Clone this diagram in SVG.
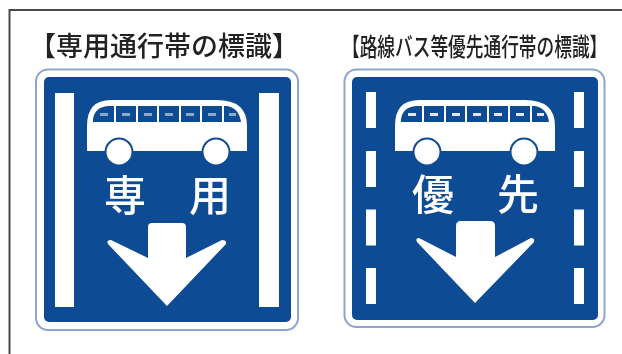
<svg xmlns="http://www.w3.org/2000/svg" width="622" height="354" viewBox="0 0 622 354">
<style>
.outer{fill:#fff;stroke:#8fa5cb;stroke-width:2}
.inner{fill:#0f4c94}
.w{fill:#fff}
.ws{fill:#fff;stroke:#0f4c94;stroke-width:2}
.win{fill:#0f4c94}
.t{font-family:"Noto Sans CJK JP","Liberation Sans",sans-serif;fill:#222;font-weight:500}
.s{font-family:"Noto Sans CJK JP","Liberation Sans",sans-serif;font-size:42px;font-weight:500;fill:#fff;text-anchor:middle}
</style>
<defs>
<filter id="soft" x="-5%" y="-5%" width="110%" height="110%"><feGaussianBlur stdDeviation="0.45"/></filter>
<g id="bus">
<path class="w" d="M0 51V26Q0 0 24 0H130Q160 0 160 26V51Z"/>
<path class="win" d="M6 22V19Q8 7 21 6H27V22ZM29 6H49V22H29ZM51 6H70V22H51ZM72 6H92V22H72ZM94 6H113V22H94ZM115 6H135V22H115ZM137 6H140Q152 8 154 22H137Z"/>
<circle class="ws" cx="32" cy="52" r="13.5"/><circle class="ws" cx="129" cy="52" r="13.5"/>
</g>
<g id="bars">
<rect x="13" y="13" width="8" height="3"/><rect x="35" y="13" width="8" height="3"/><rect x="57" y="13" width="8" height="3"/><rect x="78" y="13" width="8" height="3"/><rect x="99" y="13" width="8" height="3"/><rect x="121" y="13" width="8" height="3"/><rect x="142" y="13" width="7" height="3"/>
</g>
</defs>
<rect width="622" height="354" fill="#fff"/>
<g filter="url(#soft)">
<path id="frame" d="M622 10H9.500V354" fill="none" stroke="#4a4a4a" stroke-width="2"/>
<g id="sign-left">
<text class="t" x="29" y="56" font-size="27">【専用通行帯の標識】</text>
<rect class="outer" x="36" y="69.500" width="262" height="260.500" rx="12"/>
<rect class="inner" x="44" y="77" width="247" height="245" rx="5"/>
<rect class="w" x="55" y="93" width="19" height="214"/>
<rect class="w" x="259" y="93" width="20" height="214"/>
<use href="#bus" x="87" y="100"/>
<use href="#bars" x="87" y="100" fill="#8fa9c9"/>
<text class="s" x="125" y="211">専</text>
<text class="s" x="210" y="211">用</text>
<path class="w" d="M148 258V227Q148 223 152 223H182Q186 223 186 227V258L222 240Q227 240 226 244L167 306L108 244Q106 240 111 240Z"/>
</g>
<g id="sign-right">
<text class="t" transform="translate(342 56) scale(.708 1)" font-size="25">【路線バス等優先通行帯の標識】</text>
<rect class="outer" x="344.500" y="69.500" width="260" height="257.500" rx="12"/>
<rect class="inner" x="352" y="77" width="246" height="243" rx="5"/>
<g class="w">
<rect x="366" y="92" width="10" height="36"/><rect x="366" y="151" width="10" height="36"/><rect x="366" y="209.500" width="10" height="36"/><rect x="366" y="268" width="10" height="36"/>
<rect x="574" y="92" width="10" height="36"/><rect x="574" y="151" width="10" height="36"/><rect x="574" y="209.500" width="10" height="36"/><rect x="574" y="268" width="10" height="36"/>
</g>
<use href="#bus" x="395" y="100"/>
<use href="#bars" x="395" y="100" fill="#dfe8f2"/>
<text class="s" x="433" y="210">優</text>
<text class="s" x="518" y="210">先</text>
<path class="w" d="M456 257V226Q456 221 461 221H490Q495 221 495 226V257L531 238Q535 238 534 242L475 303L417 242Q415 238 419 238Z"/>
</g>
</g>
</svg>
